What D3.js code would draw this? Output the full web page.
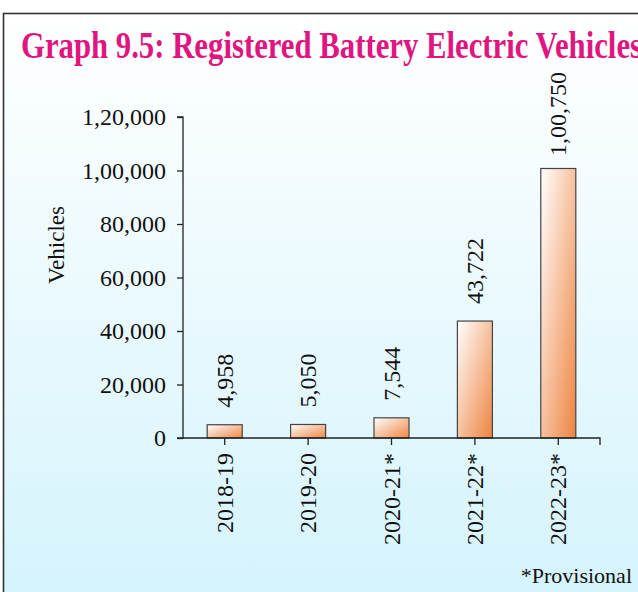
<!DOCTYPE html>
<html>
<head>
<meta charset="utf-8">
<script src="https://cdn.jsdelivr.net/npm/d3@7"></script>
<style>
  html, body { margin: 0; padding: 0; background: #ffffff; }
  svg { display: block; }
</style>
</head>
<body>
<svg id="chart" width="638" height="592"></svg>
<script>
// Registered battery electric vehicles by year
const years = ["2018-19", "2019-20", "2020-21*", "2021-22*", "2022-23*"];
const vehicles = [4958, 5050, 7544, 43722, 100750];
const yTicks = [0, 20000, 40000, 60000, 80000, 100000, 120000];
const yTickLabels = ["0", "20,000", "40,000", "60,000", "80,000", "1,00,000", "1,20,000"];
const valueLabels = ["4,958", "5,050", "7,544", "43,722", "1,00,750"];

const W = 638, H = 592;
const SERIF = "'Liberation Serif', 'Times New Roman', serif";
const svg = d3.select("#chart");
const defs = svg.append("defs");

// panel background: white fading to pale cyan
const bg = defs.append("linearGradient").attr("id", "bgGrad")
  .attr("x1", 0).attr("y1", 0).attr("x2", 0).attr("y2", 1);
bg.append("stop").attr("offset", "0%").attr("stop-color", "#ffffff");
bg.append("stop").attr("offset", "100%").attr("stop-color", "#d3f3fc");

// bar fill: white to orange along the diagonal
const barGrad = defs.append("linearGradient").attr("id", "barGrad")
  .attr("x1", 0).attr("y1", 0).attr("x2", 1).attr("y2", 1);
barGrad.append("stop").attr("offset", "0%").attr("stop-color", "#ffffff");
barGrad.append("stop").attr("offset", "100%").attr("stop-color", "#ee8440");

svg.append("rect").attr("x", 3.5).attr("y", 13.5).attr("width", W + 10).attr("height", H + 10)
  .attr("fill", "url(#bgGrad)").attr("stroke", "#333").attr("stroke-width", 1.6);

// title
svg.append("text")
  .attr("x", 21).attr("y", 58)
  .attr("textLength", 621).attr("lengthAdjust", "spacingAndGlyphs")
  .style("font-family", SERIF)
  .style("font-size", "37px").style("font-weight", "bold").style("fill", "#e0157f")
  .text("Graph 9.5: Registered Battery Electric Vehicles");

const x0 = 183, x1 = 600, yBase = 438, yTop = 117;

const x = d3.scaleBand().domain(years).range([x0, x1])
  .paddingInner(0.58).paddingOuter(0.29);
const y = d3.scaleLinear().domain([0, 120000]).range([yBase, yTop]);

// y axis
const yAxis = d3.axisLeft(y).tickValues(yTicks).tickSize(6).tickPadding(11)
  .tickFormat((d, i) => yTickLabels[i]);
const gy = svg.append("g").attr("transform", `translate(${x0},0)`).call(yAxis);
gy.select(".domain").attr("stroke", "#222").attr("stroke-width", 1.3).attr("d", `M-6,${yTop}H0V${yBase}H-6`);
gy.selectAll(".tick line").attr("stroke", "#222").attr("stroke-width", 1.3);
gy.selectAll(".tick text").style("font-size", "24px").style("font-family", SERIF).attr("fill", "#111");

// bars
svg.append("g").selectAll("rect").data(vehicles).join("rect")
  .attr("x", (d, i) => x(years[i]))
  .attr("y", d => y(d))
  .attr("width", x.bandwidth())
  .attr("height", d => yBase - y(d))
  .attr("fill", "url(#barGrad)")
  .attr("stroke", "#444").attr("stroke-width", 1.2);

// x axis
const xAxis = d3.axisBottom(x).tickSize(7).tickPadding(0);
const gx = svg.append("g").attr("transform", `translate(0,${yBase})`).call(xAxis);
gx.select(".domain").attr("stroke", "#222").attr("stroke-width", 1.3).attr("d", `M${x0},0H${x1}V7`);
gx.selectAll(".tick line").attr("stroke", "#222").attr("stroke-width", 1.3);
gx.selectAll(".tick text")
  .style("font-size", "24px").style("font-family", SERIF).attr("fill", "#111")
  .attr("text-anchor", "end")
  .attr("dy", null)
  .attr("transform", "translate(0,15) rotate(-90)")
  .attr("x", 0).attr("y", 0)
  .attr("dominant-baseline", "central");

// value labels above bars
const labels = svg.append("g").selectAll("text").data(vehicles).join("text")
  .style("font-size", "24px").style("font-family", SERIF).attr("fill", "#111")
  .attr("text-anchor", "start")
  .attr("dominant-baseline", "central")
  .text((d, i) => valueLabels[i]);
labels.each(function(d, i) {
  const len = this.getComputedTextLength();
  const cx = x(years[i]) + x.bandwidth() / 2;
  const start = Math.max(y(d) - 17, 72 + len);
  d3.select(this).attr("transform", `translate(${cx},${start}) rotate(-90)`);
});

// y axis title
svg.append("text")
  .attr("transform", "translate(56,245) rotate(-90)")
  .attr("text-anchor", "middle").attr("dominant-baseline", "central")
  .style("font-size", "23px").style("font-family", SERIF).attr("fill", "#111")
  .text("Vehicles");

// footnote
svg.append("text")
  .attr("x", 632).attr("y", 583).attr("text-anchor", "end")
  .style("font-size", "22px").style("font-family", SERIF).attr("fill", "#111")
  .text("*Provisional");
</script>
</body>
</html>
